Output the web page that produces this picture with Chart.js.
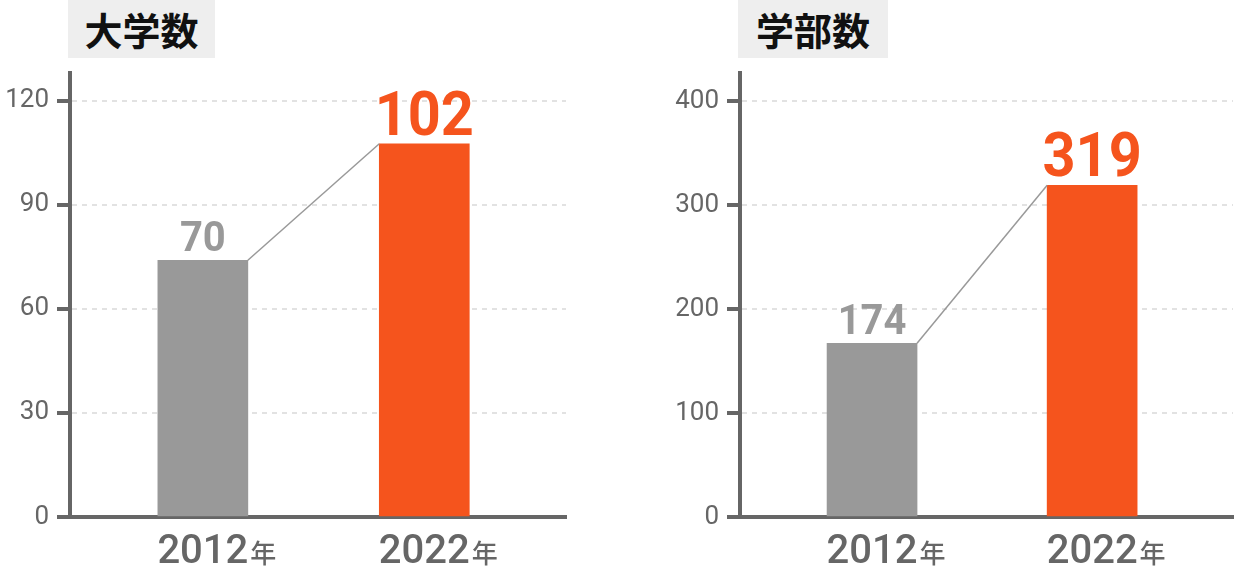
<!DOCTYPE html>
<html>
<head>
<meta charset="utf-8">
<script src="https://cdn.jsdelivr.net/npm/chart.js@4"></script>
<style>
    body { margin: 0; background: #fff; width: 1237px; height: 567px; position: relative; overflow: hidden; }
    .box { position: absolute; top: 0; height: 567px; }
    .title {
        position: absolute; top: 0; height: 58px; line-height: 58px;
        background: #eeeeee; color: #111;
        font-family: "Noto Sans CJK JP", sans-serif; font-weight: 700; font-size: 38px;
        text-align: center;
    }
</style>
</head>
<body>
<div class="box" style="left:0;width:570px"><canvas id="univ-chart"></canvas></div>
<div class="box" style="left:670px;width:567px"><canvas id="faculty-chart"></canvas></div>
<div class="title" style="left:68px;width:147px">大学数</div>
<div class="title" style="left:738px;width:150px">学部数</div>

<script>
// categories
const years = ["2012", "2022"];
const yearSuffix = "年";

// 大学数: bar heights as drawn, and the numbers printed above them
const univValues = [74, 107.6];
const univLabels = ["70", "102"];
const univTicks = [0, 30, 60, 90, 120];
const univMax = 128;

// 学部数
const facultyValues = [167, 319];
const facultyLabels = ["174", "319"];
const facultyTicks = [0, 100, 200, 300, 400];
const facultyMax = 427;

const barColors = ["#999999", "#f5541d"];
const axisColor = "#666666";

const barDecor = {
    id: "barDecor",
    afterDatasetsDraw(chart) {
        const ctx = chart.ctx;
        const bars = chart.getDatasetMeta(0).data;
        const labels = chart.options.plugins.barDecor.labels;

        // connector from grey bar top-right to orange bar top-left
        ctx.save();
        ctx.strokeStyle = "#999999";
        ctx.lineWidth = 1.5;
        ctx.beginPath();
        ctx.moveTo(bars[0].x + bars[0].width / 2, bars[0].y);
        ctx.lineTo(bars[1].x - bars[1].width / 2, bars[1].y);
        ctx.stroke();

        // value labels (a bit condensed, like the original)
        ctx.textAlign = "center";
        ctx.textBaseline = "alphabetic";
        bars.forEach((bar, i) => {
            if (i === 0) {
                ctx.font = "bold 43px Roboto";
                ctx.fillStyle = "#999999";
            } else {
                ctx.font = "bold 62px Roboto";
                ctx.fillStyle = "#f5541d";
            }
            ctx.save();
            ctx.translate(bar.x, bar.y - 9);
            ctx.scale(0.93, 1);
            ctx.fillText(labels[i], 0, 0);
            ctx.restore();
        });

        // category labels "2012年"
        const baseY = chart.chartArea.bottom + 46;
        bars.forEach((bar, i) => {
            ctx.font = "500 40px Roboto";
            ctx.fillStyle = axisColor;
            ctx.textAlign = "center";
            ctx.fillText(years[i], bar.x, baseY);
            const w = ctx.measureText(years[i]).width;
            ctx.font = "500 26px 'Noto Sans CJK JP'";
            ctx.textAlign = "left";
            ctx.fillText(yearSuffix, bar.x + w / 2 + 2, baseY);
        });
        ctx.restore();
    }
};

function makeChart(canvasId, values, labels, ticks, max) {
    return new Chart(document.getElementById(canvasId), {
        type: "bar",
        data: {
            datasets: [{
                data: values.map((v, i) => ({ x: i, y: v })),
                backgroundColor: barColors,
                barThickness: 90,
                borderWidth: 0
            }]
        },
        options: {
            responsive: true,
            maintainAspectRatio: false,
            animation: false,
            layout: { padding: { top: 73, right: 4, left: 0, bottom: 0 } },
            plugins: {
                legend: { display: false },
                tooltip: { enabled: false },
                barDecor: { labels: labels }
            },
            scales: {
                x: {
                    type: "linear",
                    min: -0.6,
                    max: 1.64,
                    offset: false,
                    grid: { display: false, offset: false },
                    border: { display: true, color: axisColor, width: 4 },
                    ticks: { display: false },
                    afterFit(scale) { scale.height = 50; }
                },
                y: {
                    min: 0,
                    max: max,
                    afterBuildTicks(scale) {
                        scale.ticks = ticks.map(v => ({ value: v }));
                    },
                    afterFit(scale) { scale.width = 70; },
                    grid: {
                        color: "#e2e2e2",
                        lineWidth: 2,
                        tickLength: 13,
                        tickWidth: 4,
                        tickColor: axisColor,
                        tickBorderDash: []
                    },
                    border: { display: true, color: axisColor, width: 4, dash: [5, 5] },
                    ticks: {
                        color: axisColor,
                        padding: 8,
                        font: { family: "Roboto", size: 26 }
                    }
                }
            }
        },
        plugins: [barDecor]
    });
}

makeChart("univ-chart", univValues, univLabels, univTicks, univMax);
makeChart("faculty-chart", facultyValues, facultyLabels, facultyTicks, facultyMax);
</script>
</body>
</html>
